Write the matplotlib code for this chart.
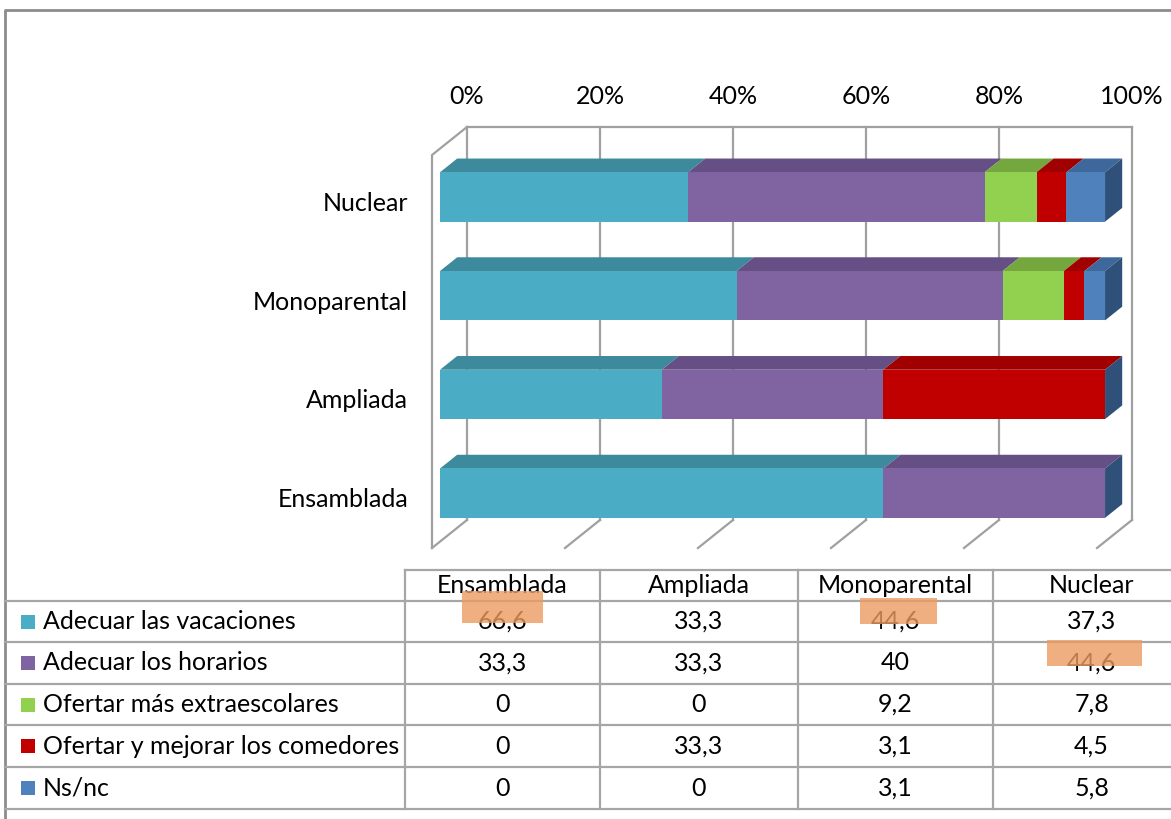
import numpy as np
import matplotlib
matplotlib.use("Agg")
import matplotlib.pyplot as plt
from matplotlib.patches import Polygon, Rectangle

plt.rcParams['font.family'] = ['Lato', 'DejaVu Sans']
FS = 18

categories = ['Ensamblada', 'Ampliada', 'Monoparental', 'Nuclear']
series_names = ['Adecuar las vacaciones', 'Adecuar los horarios',
                'Ofertar más extraescolares', 'Ofertar y mejorar los comedores',
                'Ns/nc']
vacaciones = [66.6, 33.3, 44.6, 37.3]
horarios = [33.3, 33.3, 40, 44.6]
extraescolares = [0, 0, 9.2, 7.8]
comedores = [0, 33.3, 3.1, 4.5]
nsnc = [0, 0, 3.1, 5.8]
tick_values = [0, 20, 40, 60, 80, 100]
tick_labels = ['0%', '20%', '40%', '60%', '80%', '100%']

front_colors = ['#4BACC6', '#8064A2', '#92D050', '#C00000', '#4F81BD']
top_colors = ['#3D8A9C', '#654F84', '#74A83E', '#A00000', '#3E689C']
side_color = '#2F5078'
grid_color = '#A0A0A0'
line_color = '#A6A6A6'

W, H = 1171, 819
fig = plt.figure(figsize=(W / 100, H / 100), dpi=100)
fig.patch.set_facecolor('white')

# chart axes: x is percent on the front plane of the walls, y is category index
YB, YT = -0.49, 3.49
ax = fig.add_axes([432 / W, (H - 548) / H, 665 / W, 393 / H])
ax.set_xlim(0, 100)
ax.set_ylim(YB, YT)
ax.axis('off')

DX, DY = 35 / 6.65, 28 / 98.7     # wall depth in data units
F0, F1 = 0.23, 0.72               # bar front / back depth fractions
BAR_H = 0.5


def proj(x, y, f):
    return (x + f * DX, y + f * DY)


# back wall, floor and left wall lines
for t in tick_values:
    ax.plot(*zip(proj(t, YB, 1), proj(t, YT, 1)), color=grid_color, lw=1.6,
            clip_on=False, zorder=1)
    ax.plot(*zip(proj(t, YB, 0), proj(t, YB, 1)), color=grid_color, lw=1.6,
            clip_on=False, zorder=1)
ax.plot(*zip(proj(0, YT, 1), proj(100, YT, 1)), color=grid_color, lw=1.6,
        clip_on=False, zorder=1)
ax.plot(*zip(proj(0, YB, 0), proj(0, YT, 0), proj(0, YT, 1)),
        color=grid_color, lw=1.6, clip_on=False, zorder=1)

for t, lab in zip(tick_values, tick_labels):
    x, y = proj(t, YT, 1)
    ax.text(x, y + 0.31, lab, ha='center', va='center', fontsize=FS,
            clip_on=False)

# 100% stacked bars with a little depth
values = np.array([vacaciones, horarios, extraescolares, comedores, nsnc], float)
shares = values / values.sum(axis=0) * 100
starts = np.vstack([np.zeros(len(categories)), np.cumsum(shares, axis=0)[:-1]])

for k, cat in enumerate(categories):
    y0, y1 = k - BAR_H / 2, k + BAR_H / 2
    for s in range(len(series_names)):
        w = shares[s, k]
        if w <= 0:
            continue
        x0 = starts[s, k]
        x1 = x0 + w
        front = [proj(x0, y0, F0), proj(x1, y0, F0), proj(x1, y1, F0), proj(x0, y1, F0)]
        top = [proj(x0, y1, F0), proj(x1, y1, F0), proj(x1, y1, F1), proj(x0, y1, F1)]
        ax.add_patch(Polygon(top, closed=True, fc=top_colors[s], ec='none',
                             clip_on=False, zorder=3))
        ax.add_patch(Polygon(front, closed=True, fc=front_colors[s], ec='none',
                             clip_on=False, zorder=4))
    end = starts[-1, k] + shares[-1, k]
    side = [proj(end, y0, F0), proj(end, y1, F0), proj(end, y1, F1), proj(end, y0, F1)]
    ax.add_patch(Polygon(side, closed=True, fc=side_color, ec='none',
                         clip_on=False, zorder=3))
    ax.text(-3.6, k, cat, ha='right', va='center', fontsize=FS, clip_on=False)

# frame and data table in pixel coordinates
ov = fig.add_axes([0, 0, 1, 1])
ov.set_xlim(0, W)
ov.set_ylim(H, 0)
ov.axis('off')

ov.plot([5, 5, W], [H, 10, 10], color='#8C8C8C', lw=2)

col_edges = [405, 600, 798, 993, 1190]
row_edges = [570, 601, 642, 684, 725, 767, 809]
for x in col_edges:
    ov.plot([x, x], [row_edges[0], row_edges[-1]], color=line_color, lw=1.6)
ov.plot([col_edges[0], W], [row_edges[0]] * 2, color=line_color, lw=1.6)
for y in row_edges[1:]:
    ov.plot([5, W], [y, y], color=line_color, lw=1.6)

col_mid = [(a + b) / 2 for a, b in zip(col_edges[:-1], col_edges[1:])]
row_mid = [(a + b) / 2 for a, b in zip(row_edges[:-1], row_edges[1:])]

for cx, cat in zip(col_mid, categories):
    ov.text(cx, row_mid[0], cat, ha='center', va='center', fontsize=FS)


def fmt(v):
    return f"{v:g}".replace('.', ',')


for s, name in enumerate(series_names):
    cy = row_mid[s + 1]
    ov.add_patch(Rectangle((21, cy - 7), 14, 14, fc=front_colors[s], ec='none'))
    ov.text(43, cy, name, ha='left', va='center', fontsize=FS)
    for c in range(len(categories)):
        ov.text(col_mid[c], cy, fmt(values[s, c]), ha='center', va='center',
                fontsize=FS)

# highlighted cells
for x0, y0, x1, y1 in [(462, 591, 543, 623), (860, 598, 937, 624),
                       (1047, 640, 1142, 666)]:
    ov.add_patch(Rectangle((x0, y0), x1 - x0, y1 - y0, fc='#ED9B60',
                           ec='none', alpha=0.8, zorder=5))

fig.savefig('out.png', dpi=100)
